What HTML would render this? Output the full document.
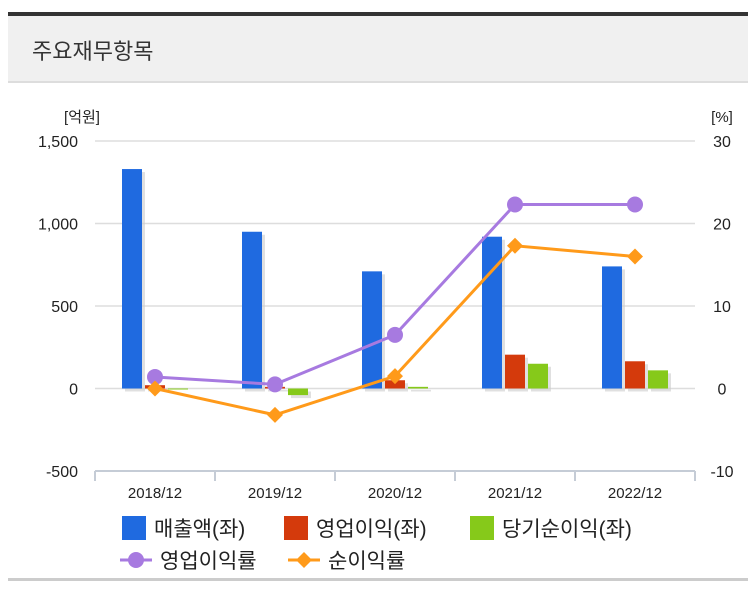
<!DOCTYPE html>
<html><head><meta charset="utf-8"><style>
body{margin:0;width:756px;height:594px;background:#fff;font-family:"Liberation Sans","Noto Sans CJK KR",sans-serif;overflow:hidden;position:relative}
#topbar{position:absolute;left:8px;top:12px;width:740px;height:4px;background:#333}
#header{position:absolute;left:8px;top:16px;width:740px;height:65px;background:#f0f0f0;border-bottom:2px solid #ddd}
#title{position:absolute;left:24px;top:18px;font-size:22px;color:#333}
#bottombar{position:absolute;left:8px;top:578px;width:740px;height:3px;background:#ccc}
svg{position:absolute;left:0;top:0}
</style></head><body>
<div id="topbar"></div>
<div id="header"><div id="title">주요재무항목</div></div>
<div id="bottombar"></div>
<svg id="chart" width="756" height="594"></svg>
<script>
const categories=["2018/12","2019/12","2020/12","2021/12","2022/12"];
const revenue=[1330,950,710,920,740];
const opIncome=[20,10,50,205,165];
const netIncome=[0,-40,10,150,110];
const opMargin=[1.4,0.5,6.5,22.3,22.3];
const netMargin=[0,-3.2,1.5,17.3,16.0];
const leftTicks=[1500,1000,500,0,-500];
const leftTickLabels=["1,500","1,000","500","0","-500"];
const rightTicks=[30,20,10,0,-10];
const NS="http://www.w3.org/2000/svg";
const svg=document.getElementById('chart');
const X0=95,X1=695,YT=141,YB=471;
const yL=v=>YB-(v+500)/2000*(YB-YT);
const yR=v=>YB-(v+10)/40*(YB-YT);
const cx=i=>X0+(i+0.5)*(X1-X0)/categories.length;
function mk(t,a,txt){const e=document.createElementNS(NS,t);for(const k in a)e.setAttribute(k,a[k]);if(txt!==undefined)e.textContent=txt;svg.appendChild(e);return e;}
let e;
e=mk('text',{x:82,y:122,'font-size':15,'text-anchor':'middle',fill:'#222'},'[억원]');


e=mk('text',{x:722,y:122,'font-size':15,'text-anchor':'middle',fill:'#222'},'[%]');


leftTicks.forEach((v,i)=>{
  if(v!==-500){e=mk('line',{x1:X0,x2:X1,y1:yL(v),y2:yL(v),stroke:'#ddd','stroke-width':1.5});
  
  }
  e=mk('text',{x:78,y:yL(v)+6,'font-size':16,'text-anchor':'end',fill:'#222'},leftTickLabels[i]);
  
  
});
rightTicks.forEach(v=>{
  e=mk('text',{x:722,y:yR(v)+6,'font-size':16,'text-anchor':'middle',fill:'#222'},String(v));
  
  
});
e=mk('line',{x1:X0,x2:X1,y1:YB,y2:YB,stroke:'#c5ccd6','stroke-width':2});


for(let i=0;i<=categories.length;i++){const x=X0+i*(X1-X0)/categories.length;
  e=mk('line',{x1:x,x2:x,y1:YB,y2:YB+10,stroke:'#c5ccd6','stroke-width':2});
  
  }
categories.forEach((c,i)=>{
  e=mk('text',{x:cx(i),y:YB+27,'font-size':15,'text-anchor':'middle',fill:'#222'},c);
  
  
});
const series=[[revenue,'#1f6ae0',-23,'bar-revenue'],[opIncome,'#d43a0c',0,'bar-op-income'],[netIncome,'#86c91a',23,'bar-net-income']];
series.forEach(([arr,col,off,name])=>{arr.forEach((v,i)=>{
  const y0=yL(0),y=yL(v);
  mk('rect',{x:cx(i)+off-10+3,y:Math.min(y,y0)+3,width:20,height:Math.abs(y0-y),fill:'#ccc',opacity:0.6});
  e=mk('rect',{x:cx(i)+off-10,y:Math.min(y,y0),width:20,height:Math.max(Math.abs(y0-y),1),fill:col});
  
  
});});
function line(arr,col,name,marker){
  e=mk('polyline',{points:arr.map((v,i)=>cx(i)+','+yR(v)).join(' '),fill:'none',stroke:col,'stroke-width':3});
  
  
  arr.forEach((v,i)=>{const x=cx(i),y=yR(v);
    if(marker==='c')e=mk('circle',{cx:x,cy:y,r:8,fill:col});
    else e=mk('polygon',{points:`${x},${y-8} ${x+8},${y} ${x},${y+8} ${x-8},${y}`,fill:col});
    
    
  });
}
line(opMargin,'#a77ae0','op-margin','c');
line(netMargin,'#ff9a1a','net-margin','d');
const leg=[['rect','#1f6ae0','매출액(좌)',122,528],['rect','#d43a0c','영업이익(좌)',284,528],['rect','#86c91a','당기순이익(좌)',470,528],['circle','#a77ae0','영업이익률',122,560],['diamond','#ff9a1a','순이익률',290,560]];
leg.forEach(([t,col,label,x,y])=>{
  if(t==='rect')e=mk('rect',{x:x,y:y-12,width:24,height:24,fill:col});
  else{mk('line',{x1:x-2,x2:x+30,y1:y,y2:y,stroke:col,'stroke-width':3});
    e=t==='circle'?mk('circle',{cx:x+14,cy:y,r:8,fill:col}):mk('polygon',{points:`${x+14},${y-8} ${x+22},${y} ${x+14},${y+8} ${x+6},${y}`,fill:col});}
  
  
  e=mk('text',{x:x+(t==='rect'?32:38),y:y+8,'font-size':21,fill:'#222'},label);
  
  
});
</script>
</body></html>
